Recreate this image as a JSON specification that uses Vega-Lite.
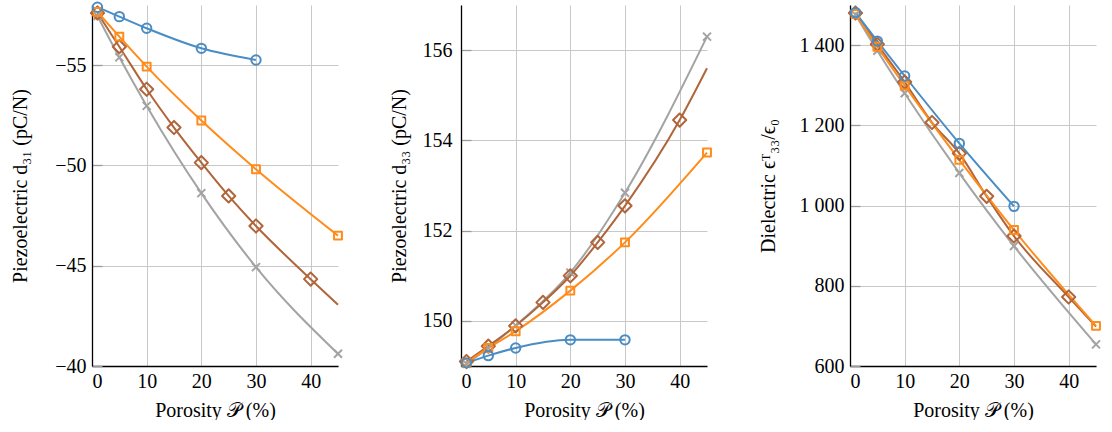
{
  "$schema": "https://vega.github.io/schema/vega-lite/v6.json",
  "padding": {"left": 10, "top": 1, "right": 0, "bottom": 0},
  "config": {
    "font": "Liberation Serif",
    "view": {"stroke": null},
    "axis": {
      "labelFont": "Liberation Serif", "titleFont": "Liberation Serif",
      "labelFontSize": 20, "titleFontSize": 20, "titleFontWeight": "normal",
      "labelColor": "#000", "titleColor": "#000",
      "domainColor": "#000", "domainWidth": 1.3,
      "gridColor": "#c8c8c8", "gridWidth": 1,
      "tickColor": "#9a9a9a", "tickWidth": 1.3
    },
    "axisX": {"ticks": false, "labelPadding": 5, "titlePadding": 9},
    "concat": {"spacing": 46}
  },
  "datasets": {
    "d31": [
      {"series": "D", "x": 1, "y": -57.45}, {"series": "D", "x": 5, "y": -55.39}, {"series": "D", "x": 10, "y": -52.97}, {"series": "D", "x": 20, "y": -48.62}, {"series": "D", "x": 30, "y": -44.93}, {"series": "D", "x": 45, "y": -40.61},
      {"series": "C", "x": 1, "y": -57.6}, {"series": "C", "x": 5, "y": -55.92}, {"series": "C", "x": 10, "y": -53.8}, {"series": "C", "x": 15, "y": -51.89}, {"series": "C", "x": 20, "y": -50.14}, {"series": "C", "x": 25, "y": -48.48}, {"series": "C", "x": 30, "y": -46.98}, {"series": "C", "x": 40, "y": -44.33}, {"series": "C", "x": 45, "y": -43.05},
      {"series": "B", "x": 1, "y": -57.65}, {"series": "B", "x": 5, "y": -56.42}, {"series": "B", "x": 10, "y": -54.93}, {"series": "B", "x": 20, "y": -52.24}, {"series": "B", "x": 30, "y": -49.81}, {"series": "B", "x": 45, "y": -46.5},
      {"series": "A", "x": 1, "y": -57.89}, {"series": "A", "x": 5, "y": -57.42}, {"series": "A", "x": 10, "y": -56.84}, {"series": "A", "x": 20, "y": -55.84}, {"series": "A", "x": 30, "y": -55.26}
    ],
    "d33": [
      {"series": "D", "x": 1, "y": 149.05}, {"series": "D", "x": 5, "y": 149.4}, {"series": "D", "x": 10, "y": 149.9}, {"series": "D", "x": 20, "y": 151.07}, {"series": "D", "x": 30, "y": 152.84}, {"series": "D", "x": 45, "y": 156.3},
      {"series": "C", "x": 1, "y": 149.1}, {"series": "C", "x": 5, "y": 149.44}, {"series": "C", "x": 10, "y": 149.89}, {"series": "C", "x": 15, "y": 150.41}, {"series": "C", "x": 20, "y": 151.0}, {"series": "C", "x": 25, "y": 151.74}, {"series": "C", "x": 30, "y": 152.55}, {"series": "C", "x": 40, "y": 154.45}, {"series": "C", "x": 45, "y": 155.6},
      {"series": "B", "x": 1, "y": 149.07}, {"series": "B", "x": 5, "y": 149.4}, {"series": "B", "x": 10, "y": 149.77}, {"series": "B", "x": 20, "y": 150.67}, {"series": "B", "x": 30, "y": 151.74}, {"series": "B", "x": 45, "y": 153.73},
      {"series": "A", "x": 1, "y": 149.07}, {"series": "A", "x": 5, "y": 149.23}, {"series": "A", "x": 10, "y": 149.4}, {"series": "A", "x": 20, "y": 149.58}, {"series": "A", "x": 30, "y": 149.58}
    ],
    "eps": [
      {"series": "D", "x": 1, "y": 1476}, {"series": "D", "x": 5, "y": 1386}, {"series": "D", "x": 10, "y": 1280}, {"series": "D", "x": 20, "y": 1081}, {"series": "D", "x": 30, "y": 899}, {"series": "D", "x": 45, "y": 654},
      {"series": "C", "x": 1, "y": 1480}, {"series": "C", "x": 5, "y": 1402}, {"series": "C", "x": 10, "y": 1308}, {"series": "C", "x": 15, "y": 1207}, {"series": "C", "x": 20, "y": 1130}, {"series": "C", "x": 25, "y": 1023}, {"series": "C", "x": 30, "y": 924}, {"series": "C", "x": 40, "y": 772}, {"series": "C", "x": 45, "y": 698},
      {"series": "B", "x": 1, "y": 1478}, {"series": "B", "x": 5, "y": 1396}, {"series": "B", "x": 10, "y": 1299}, {"series": "B", "x": 20, "y": 1114}, {"series": "B", "x": 30, "y": 939}, {"series": "B", "x": 45, "y": 700},
      {"series": "A", "x": 1, "y": 1481}, {"series": "A", "x": 5, "y": 1410}, {"series": "A", "x": 10, "y": 1323}, {"series": "A", "x": 20, "y": 1155}, {"series": "A", "x": 30, "y": 998}
    ]
  },
  "hconcat": [
    {
      "width": 246, "height": 361,
      "data": {"name": "d31"},
      "encoding": {
        "x": {"field": "x", "type": "quantitative", "scale": {"domain": [0, 45], "nice": false, "zero": false},
              "axis": {"values": [0, 10, 20, 30, 40], "title": "Porosity 𝒫 (%)"}},
        "y": {"field": "y", "type": "quantitative", "scale": {"domain": [-58, -40], "nice": false, "zero": false, "reverse": true},
              "axis": {"values": [-55, -50, -45, -40], "title": "Piezoelectric d₃₁ (pC/N)", "tickSize": -10, "labelPadding": 16, "titlePadding": 24}},
        "color": {"field": "series", "type": "nominal", "scale": {"domain": ["D", "C", "B", "A"], "range": ["#a3a3a3", "#b0653a", "#ff8c1a", "#4a8cc4"]}, "legend": null}
      },
      "layer": [
        {"mark": {"type": "line", "interpolate": "monotone", "strokeWidth": 2, "strokeJoin": "round"}},
        {"transform": [{"filter": "datum.series != 'C' || datum.x < 45"}],
         "mark": {"type": "point", "filled": false, "strokeWidth": 2, "opacity": 1, "strokeJoin": "round"},
         "encoding": {
           "shape": {"field": "series", "type": "nominal", "scale": {"domain": ["D", "C", "B", "A"], "range": ["M-1,-1L1,1M1,-1L-1,1", "diamond", "square", "circle"]}, "legend": null},
           "size": {"field": "series", "type": "nominal", "scale": {"type": "ordinal", "domain": ["D", "C", "B", "A"], "range": [64, 175, 62, 88]}, "legend": null}
         }}
      ]
    },
    {
      "width": 246, "height": 361,
      "data": {"name": "d33"},
      "encoding": {
        "x": {"field": "x", "type": "quantitative", "scale": {"domain": [0, 45], "nice": false, "zero": false},
              "axis": {"values": [0, 10, 20, 30, 40], "title": "Porosity 𝒫 (%)"}},
        "y": {"field": "y", "type": "quantitative", "scale": {"domain": [149, 157], "nice": false, "zero": false},
              "axis": {"values": [150, 152, 154, 156], "title": "Piezoelectric d₃₃ (pC/N)", "tickSize": -10, "labelPadding": 19, "titlePadding": 13}},
        "color": {"field": "series", "type": "nominal", "scale": {"domain": ["D", "C", "B", "A"], "range": ["#a3a3a3", "#b0653a", "#ff8c1a", "#4a8cc4"]}, "legend": null}
      },
      "layer": [
        {"mark": {"type": "line", "interpolate": "monotone", "strokeWidth": 2, "strokeJoin": "round"}},
        {"transform": [{"filter": "datum.series != 'C' || datum.x < 45"}],
         "mark": {"type": "point", "filled": false, "strokeWidth": 2, "opacity": 1, "strokeJoin": "round"},
         "encoding": {
           "shape": {"field": "series", "type": "nominal", "scale": {"domain": ["D", "C", "B", "A"], "range": ["M-1,-1L1,1M1,-1L-1,1", "diamond", "square", "circle"]}, "legend": null},
           "size": {"field": "series", "type": "nominal", "scale": {"type": "ordinal", "domain": ["D", "C", "B", "A"], "range": [64, 175, 62, 88]}, "legend": null}
         }}
      ]
    },
    {
      "width": 246, "height": 361,
      "data": {"name": "eps"},
      "encoding": {
        "x": {"field": "x", "type": "quantitative", "scale": {"domain": [0, 45], "nice": false, "zero": false},
              "axis": {"values": [0, 10, 20, 30, 40], "title": "Porosity 𝒫 (%)"}},
        "y": {"field": "y", "type": "quantitative", "scale": {"domain": [600, 1500], "nice": false, "zero": false},
              "axis": {"values": [600, 800, 1000, 1200, 1400], "labelExpr": "replace(format(datum.value, ','), ',', ' ')", "title": "Dielectric ϵᵀ₃₃/ϵ₀", "tickSize": -10, "labelPadding": 16, "titlePadding": 21}},
        "color": {"field": "series", "type": "nominal", "scale": {"domain": ["D", "C", "B", "A"], "range": ["#a3a3a3", "#b0653a", "#ff8c1a", "#4a8cc4"]}, "legend": null}
      },
      "layer": [
        {"mark": {"type": "line", "interpolate": "monotone", "strokeWidth": 2, "strokeJoin": "round"}},
        {"transform": [{"filter": "datum.series != 'C' || datum.x < 45"}],
         "mark": {"type": "point", "filled": false, "strokeWidth": 2, "opacity": 1, "strokeJoin": "round"},
         "encoding": {
           "shape": {"field": "series", "type": "nominal", "scale": {"domain": ["D", "C", "B", "A"], "range": ["M-1,-1L1,1M1,-1L-1,1", "diamond", "square", "circle"]}, "legend": null},
           "size": {"field": "series", "type": "nominal", "scale": {"type": "ordinal", "domain": ["D", "C", "B", "A"], "range": [64, 175, 62, 88]}, "legend": null}
         }}
      ]
    }
  ]
}
